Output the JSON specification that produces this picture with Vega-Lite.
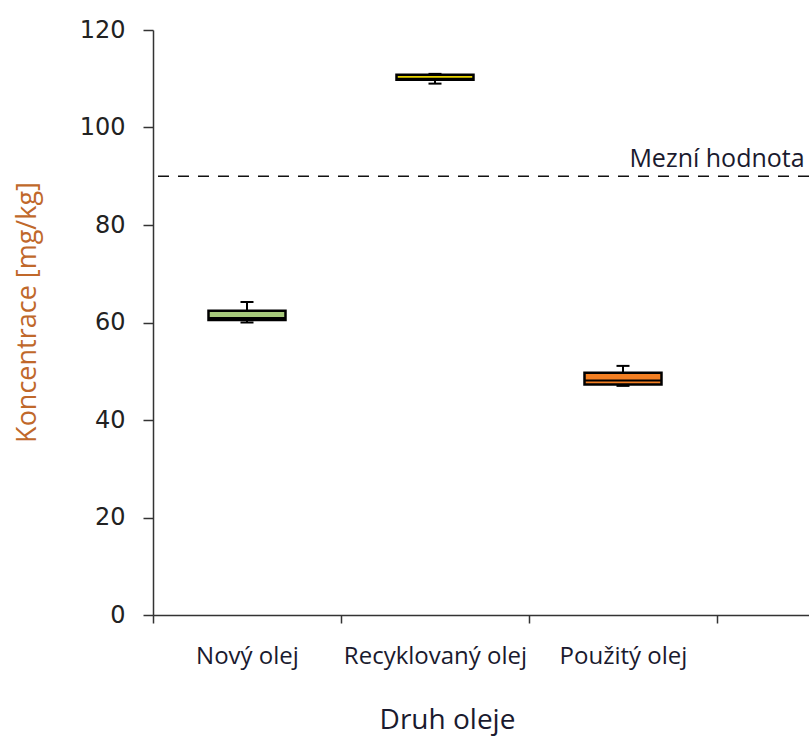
{
  "$schema": "https://vega.github.io/schema/vega-lite/v6.json",
  "width": 656,
  "height": 585,
  "autosize": {"type": "none"},
  "padding": {"left": 153, "top": 30, "right": 0, "bottom": 131},
  "background": "white",
  "config": {"view": {"stroke": null}},
  "datasets": {
    "boxes": [
      {"druh": "Nový olej", "min": 60.0, "q1": 60.5, "median": 60.9, "q3": 62.4, "max": 64.2, "barva": "#a7c97b"},
      {"druh": "Recyklovaný olej", "min": 109.0, "q1": 109.8, "median": 110.0, "q3": 110.8, "max": 111.0, "barva": "#e8d400"},
      {"druh": "Použitý olej", "min": 47.0, "q1": 47.3, "median": 48.1, "q3": 49.7, "max": 51.1, "barva": "#f47f22"}
    ],
    "limit": [
      {"druh": "Použitý olej", "hodnota": 90, "popis": "Mezní hodnota"}
    ]
  },
  "layer": [
    {
      "data": {"name": "boxes"},
      "mark": {"type": "rule", "color": "black", "strokeWidth": 2},
      "encoding": {
        "x": {
          "field": "druh", "type": "nominal", "sort": null,
          "scale": {"paddingInner": 0, "paddingOuter": 0.2447, "align": 0},
          "axis": {
            "title": "Druh oleje",
            "labelAngle": 0,
            "labelFont": "Open Sans",
            "labelFontSize": 24,
            "labelColor": "#1a1a2e",
            "labelBaseline": "top",
            "labelPadding": 21,
            "labelLimit": 400,
            "labelOverlap": false,
            "tickBand": "extent",
            "tickSize": 8,
            "tickColor": "#333",
            "tickWidth": 1.5,
            "domainColor": "#333",
            "domainWidth": 1.5,
            "titleFont": "Open Sans",
            "titleFontSize": 28,
            "titleFontWeight": "normal",
            "titleColor": "#1a1a2e",
            "titleX": 294,
            "titleY": 91,
            "titleBaseline": "top"
          }
        },
        "y": {
          "field": "min", "type": "quantitative",
          "scale": {"domain": [0, 120], "nice": false, "zero": true},
          "axis": {
            "title": "Koncentrace [mg/kg]",
            "values": [0, 20, 40, 60, 80, 100, 120],
            "grid": false,
            "labelFont": "DejaVu Sans",
            "labelFontSize": 24,
            "labelColor": "#222",
            "labelPadding": 18,
            "tickSize": 10,
            "tickColor": "#333",
            "tickWidth": 1.5,
            "domainColor": "#333",
            "domainWidth": 1.5,
            "titleFont": "Open Sans",
            "titleFontSize": 27,
            "titleFontWeight": "normal",
            "titleColor": "#c0682a",
            "titleAngle": -90,
            "titleX": -126,
            "titleY": 282,
            "titleAlign": "center",
            "titleBaseline": "middle"
          }
        },
        "y2": {"field": "max"}
      }
    },
    {
      "data": {"name": "boxes"},
      "mark": {"type": "bar", "size": 77, "stroke": "black", "strokeWidth": 2.5},
      "encoding": {
        "x": {"field": "druh", "type": "nominal", "sort": null},
        "y": {"field": "q1", "type": "quantitative"},
        "y2": {"field": "q3"},
        "fill": {"field": "barva", "type": "nominal", "scale": null}
      }
    },
    {
      "data": {"name": "boxes"},
      "mark": {"type": "tick", "size": 77, "thickness": 2, "color": "black", "opacity": 1},
      "encoding": {
        "x": {"field": "druh", "type": "nominal", "sort": null},
        "y": {"field": "median", "type": "quantitative"}
      }
    },
    {
      "data": {"name": "boxes"},
      "mark": {"type": "tick", "size": 13, "thickness": 2, "color": "black", "opacity": 1},
      "encoding": {
        "x": {"field": "druh", "type": "nominal", "sort": null},
        "y": {"field": "min", "type": "quantitative"}
      }
    },
    {
      "data": {"name": "boxes"},
      "mark": {"type": "tick", "size": 13, "thickness": 2, "color": "black", "opacity": 1},
      "encoding": {
        "x": {"field": "druh", "type": "nominal", "sort": null},
        "y": {"field": "max", "type": "quantitative"}
      }
    },
    {
      "data": {"name": "limit"},
      "mark": {"type": "rule", "color": "#111", "strokeWidth": 1.5, "strokeDash": [11, 9]},
      "encoding": {
        "y": {"field": "hodnota", "type": "quantitative"}
      }
    },
    {
      "data": {"name": "limit"},
      "mark": {"type": "text", "font": "Open Sans", "fontSize": 25, "color": "#1a1a2e", "align": "center", "baseline": "bottom", "dy": -4},
      "encoding": {
        "x": {"field": "druh", "type": "nominal", "sort": null, "bandPosition": 1},
        "y": {"field": "hodnota", "type": "quantitative"},
        "text": {"field": "popis"}
      }
    }
  ]
}
